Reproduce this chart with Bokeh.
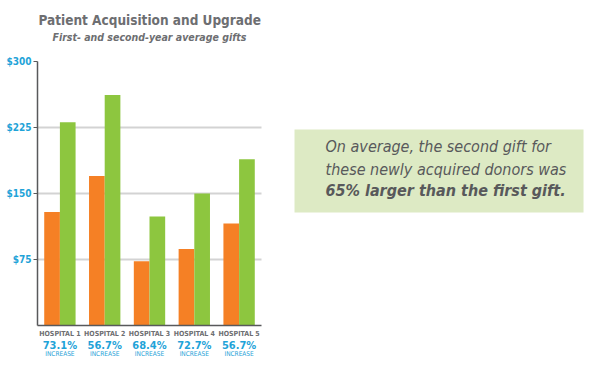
from bokeh.plotting import figure
from bokeh.models import (ColumnDataSource, Range1d, FixedTicker, NumeralTickFormatter,
                          Label, LinearAxis, Title, BoxAnnotation, Grid)
from bokeh.transform import dodge
from bokeh.embed import file_html
from bokeh.resources import INLINE

# ---- data ----
hospitals = ["HOSPITAL 1", "HOSPITAL 2", "HOSPITAL 3", "HOSPITAL 4", "HOSPITAL 5"]
first_gift = [129, 170, 73, 87, 116]
second_gift = [231, 262, 124, 150, 189]
increase = ["73.1%", "56.7%", "68.4%", "72.7%", "56.7%"]
y_ticks = [75, 150, 225, 300]
title = "Patient Acquisition and Upgrade"
subtitle = "First- and second-year average gifts"
callout = ["On average, the second gift for",
           "these newly acquired donors was",
           "65% larger than the first gift."]

FONT = "'Liberation Sans Narrow', 'DejaVu Sans Condensed', sans-serif"
ORANGE = "#F58025"
GREEN = "#8DC63F"
CYAN = "#1FA3D8"
GRAY = "#6D6E71"
DARK = "#58595B"

pos = list(range(1, len(hospitals) + 1))
src = ColumnDataSource(dict(x=pos, a=first_gift, b=second_gift))

W, H = 600, 371
p = figure(width=W, height=H, x_range=Range1d(0.5, 13.067), y_range=Range1d(0, 300),
           output_backend="svg", toolbar_location=None, x_axis_location=None,
           min_border_left=37, min_border_right=0, min_border_top=61, min_border_bottom=46)
p.outline_line_color = None

p.vbar(x=dodge("x", -0.175), top="a", width=0.35, source=src, fill_color=ORANGE, line_color=None)
p.vbar(x=dodge("x", 0.175), top="b", width=0.35, source=src, fill_color=GREEN, line_color=None)

# y axis
p.yaxis.ticker = FixedTicker(ticks=y_ticks)
p.yaxis.formatter = NumeralTickFormatter(format="$0")
p.yaxis.major_label_text_color = CYAN
p.yaxis.major_label_text_font = FONT
p.yaxis.major_label_text_font_style = "bold"
p.yaxis.major_label_text_font_size = "10px"
p.yaxis.major_tick_out = 4
p.yaxis.major_tick_in = 0
p.yaxis.minor_tick_line_color = None
p.yaxis.major_label_standoff = 2
p.yaxis.axis_line_color = DARK
p.yaxis.axis_line_width = 1.5
p.yaxis.major_tick_line_color = DARK

# grid lines only across the bar area
p.xgrid.visible = False
if "cross_bounds" in Grid.properties():
    p.ygrid.ticker = FixedTicker(ticks=y_ticks)
    p.ygrid.cross_bounds = (0.5, 5.5)
    p.ygrid.grid_line_color = "#D3D3D3"
    p.ygrid.grid_line_width = 2
else:
    p.ygrid.visible = False
    p.segment(x0=[0.5] * len(y_ticks), x1=[5.5] * len(y_ticks), y0=y_ticks, y1=y_ticks,
              line_color="#D3D3D3", line_width=2, level="underlay")

# three stacked x axes: hospital name, increase %, "INCREASE"
def make_axis(labels, size, color, style, standoff, line=False):
    ax = LinearAxis(ticker=FixedTicker(ticks=pos),
                    major_label_overrides={t: l for t, l in zip(pos, labels)},
                    major_label_text_font=FONT, major_label_text_font_size=size,
                    major_label_text_color=color, major_label_text_font_style=style,
                    major_label_standoff=standoff, major_tick_out=0, major_tick_in=0,
                    major_tick_line_color=None, minor_tick_line_color=None,
                    axis_line_color=DARK if line else None, axis_line_width=1.5)
    if line:
        ax.bounds = (0.5, 5.5)
    p.add_layout(ax, "below")
    return ax

make_axis(hospitals, "7px", GRAY, "bold", 4, line=True)
make_axis(increase, "11px", CYAN, "bold", -2)
make_axis(["INCREASE"] * len(hospitals), "6.5px", CYAN, "normal", -5)

# titles (p.title is the outer one, the added Title sits nearer the frame)
p.title.text = title
p.title.align = "left"
p.title.offset = 1
p.title.text_font = FONT
p.title.text_font_style = "bold"
p.title.text_font_size = "13.5px"
p.title.text_color = GRAY
p.title.standoff = -36
p.add_layout(Title(text=subtitle, align="left", offset=15, text_font=FONT,
                   text_font_style="bold italic", text_font_size="10.5px", text_color=GRAY,
                   standoff=38), "above")

# callout box
p.add_layout(BoxAnnotation(left=6.237, right=12.688, top=222.7, bottom=128.4,
                           fill_color="#DDEAC4", fill_alpha=1, line_color=None,
                           level="underlay"))
line_y = [203.4, 177.3, 153.4]
styles = ["italic", "italic", "bold italic"]
for t, yy, st in zip(callout, line_y, styles):
    p.add_layout(Label(x=6.929, y=yy, text=t, text_font=FONT, text_font_style=st,
                       text_font_size="16px", text_color="#58595B", text_baseline="middle"))

open("out.html", "w").write(file_html(p, INLINE))
